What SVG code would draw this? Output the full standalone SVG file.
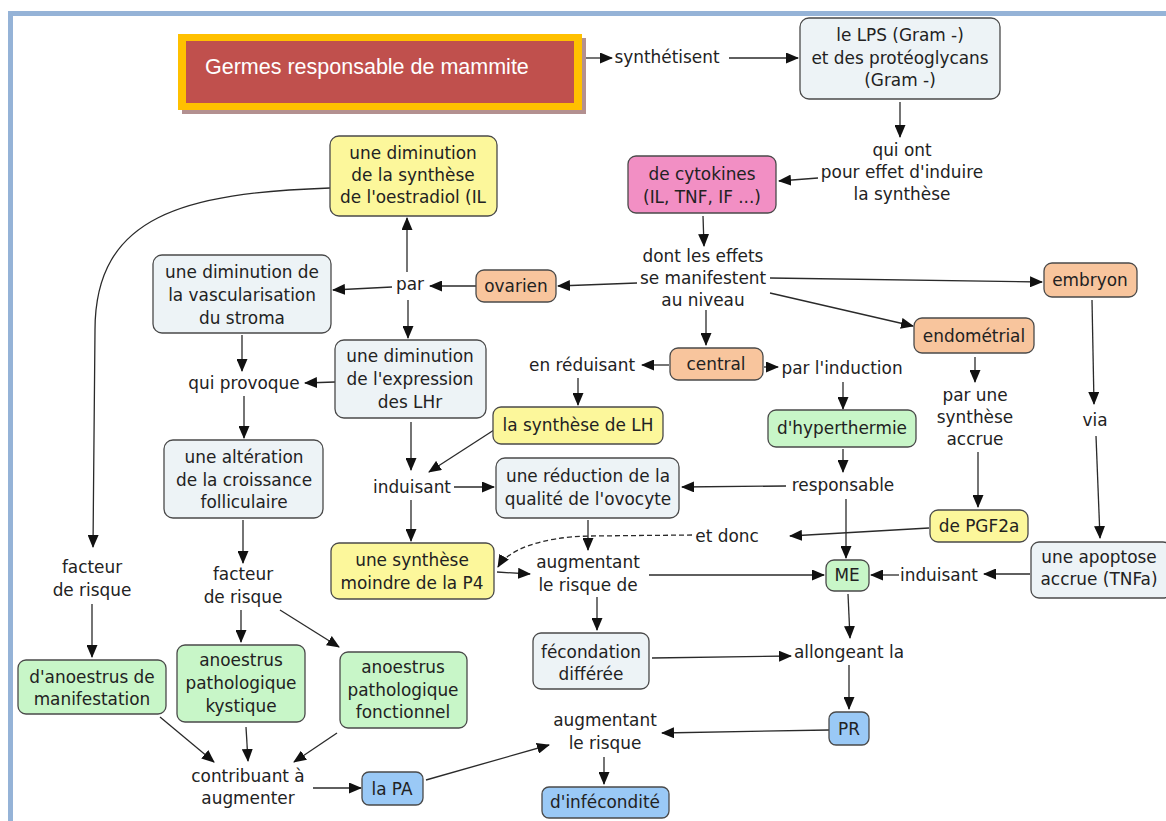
<svg xmlns="http://www.w3.org/2000/svg" width="1166" height="821" viewBox="0 0 1166 821">
<style>
.t{font-family:"DejaVu Sans",Verdana,sans-serif;font-size:16.9px;fill:#222;text-anchor:middle}
.nd{stroke:#4a4a4a;stroke-width:1.3}
.gb{fill:#edf3f6}.ye{fill:#fcf79b}.gr{fill:#c8f6c8}.or{fill:#f8c59d}.pk{fill:#f28fc4}.bl{fill:#9ac9f6}
.c{fill:none;stroke:#2a2a2a;stroke-width:1.3}
.a{marker-end:url(#ah)}
.d{stroke-dasharray:5 3}
</style>
<defs>
<marker id="ah" markerUnits="userSpaceOnUse" markerWidth="13" markerHeight="11" refX="12" refY="5.5" orient="auto">
<path d="M0,0 L13,5.5 L0,11 z" fill="#111"/>
</marker>
</defs>
<rect x="0" y="0" width="1166" height="821" fill="#fff"/>
<rect x="10.5" y="13.5" width="1170" height="830" fill="none" stroke="#95b3d7" stroke-width="5"/>

<g id="connectors">
<path class="c a" d="M582,58 L612,58"/>
<path class="c a" d="M729,58 L798,58"/>
<path class="c a" d="M900,102 L900,137"/>
<path class="c a" d="M818,178 L779,181"/>
<path class="c a" d="M703,216 L704,246"/>
<path class="c a" d="M637,283 L558,286"/>
<path class="c a" d="M476,286 L430,286"/>
<path class="c a" d="M407,272 L407,218"/>
<path class="c a" d="M392,287 L333,290"/>
<path class="c a" d="M408,300 L408,338"/>
<path class="c a" d="M242,335 L242,371"/>
<path class="c a" d="M335,382 L305,383"/>
<path class="c a" d="M244,396 L244,438"/>
<path class="c a" d="M330,188 C185,193 95,215 95,330 L93,547"/>
<path class="c a" d="M92,604 L92,657"/>
<path class="c a" d="M243,520 L243,563"/>
<path class="c a" d="M241,610 L241,642"/>
<path class="c a" d="M280,610 L339,647"/>
<path class="c a" d="M160,717 L214,762"/>
<path class="c a" d="M246,727 L248,761"/>
<path class="c a" d="M337,733 L294,762"/>
<path class="c a" d="M313,788 L361,788"/>
<path class="c a" d="M426,780 L549,745"/>
<path class="c a" d="M829,730 L662,733"/>
<path class="c a" d="M604,757 L604,784"/>
<path class="c a" d="M411,422 L411,470"/>
<path class="c a" d="M494,430 L429,472"/>
<path class="c a" d="M578,378 L578,405"/>
<path class="c a" d="M669,365 L642,365"/>
<path class="c a" d="M706,310 L706,345"/>
<path class="c a" d="M764,367 L778,367"/>
<path class="c a" d="M843,382 L843,409"/>
<path class="c a" d="M843,449 L843,472"/>
<path class="c a" d="M786,486 L682,487"/>
<path class="c a" d="M454,487 L494,487"/>
<path class="c a" d="M411,500 L411,541"/>
<path class="c a" d="M497,572 L530,574"/>
<path class="c a" d="M588,520 L588,550"/>
<path class="c a" d="M649,575 L824,575"/>
<path class="c a" d="M597,597 L597,630"/>
<path class="c a" d="M652,658 L791,656"/>
<path class="c a" d="M848,594 L850,638"/>
<path class="c a" d="M849,665 L849,709"/>
<path class="c a" d="M846,499 L846,558"/>
<path class="c a" d="M770,293 L913,326"/>
<path class="c a" d="M770,278 L1042,282"/>
<path class="c a" d="M975,357 L975,382"/>
<path class="c a" d="M978,452 L978,507"/>
<path class="c a" d="M929,528 L790,536"/>
<path class="c d a" d="M692,535 L590,536 C540,537 508,550 498,567"/>
<path class="c a" d="M1092,300 L1094,404"/>
<path class="c a" d="M1096,436 L1100,538"/>
<path class="c a" d="M1030,574 L984,574"/>
<path class="c a" d="M899,575 L871,575"/>
</g>

<g id="title">
<rect x="182" y="38" width="404" height="76" fill="#b39090"/>
<rect x="178" y="34" width="404" height="76" fill="#ffc000"/>
<rect x="186" y="41" width="388" height="62" fill="#c0504d"/>
<text x="205" y="74" font-family="'Liberation Sans',Arial,sans-serif" font-size="21.5" fill="#fff">Germes responsable de mammite</text>
</g>

<g id="lbl-synthetisent"><text class="t" x="667" y="63">synthétisent</text></g>

<g id="n-lps">
<rect class="nd gb" x="800" y="18" width="200" height="81" rx="9"/>
<text class="t" x="900" y="41">le LPS (Gram -)<tspan x="900" dy="22.5">et des protéoglycans</tspan><tspan x="900" dy="22.5">(Gram -)</tspan></text>
</g>

<g id="lbl-quiont"><text class="t" x="902" y="156">qui ont<tspan x="902" dy="22">pour effet d'induire</tspan><tspan x="902" dy="22">la synthèse</tspan></text></g>

<g id="n-cytokines">
<rect class="nd pk" x="628" y="156" width="148" height="57" rx="8"/>
<text class="t" x="702" y="180">de cytokines<tspan x="702" dy="23">(IL, TNF, IF ...)</tspan></text>
</g>

<g id="lbl-dont"><text class="t" x="703" y="262">dont les effets<tspan x="703" dy="22">se manifestent</tspan><tspan x="703" dy="22">au niveau</tspan></text></g>

<g id="n-ovarien">
<rect class="nd or" x="476" y="270" width="80" height="32" rx="8"/>
<text class="t" x="516" y="292">ovarien</text>
</g>

<g id="lbl-par"><text class="t" x="410" y="290">par</text></g>

<g id="n-oestradiol">
<rect class="nd ye" x="330" y="136" width="167" height="80" rx="9"/>
<text class="t" x="413" y="159">une diminution<tspan x="413" dy="22">de la synthèse</tspan><tspan x="413" dy="22">de l'oestradiol (IL</tspan></text>
</g>

<g id="n-vasc">
<rect class="nd gb" x="153" y="255" width="178" height="78" rx="9"/>
<text class="t" x="242" y="278">une diminution de<tspan x="242" dy="23">la vascularisation</tspan><tspan x="242" dy="23">du stroma</tspan></text>
</g>

<g id="n-expression">
<rect class="nd gb" x="335" y="340" width="151" height="78" rx="9"/>
<text class="t" x="410" y="362">une diminution<tspan x="410" dy="23">de l'expression</tspan><tspan x="410" dy="23">des LHr</tspan></text>
</g>

<g id="lbl-quiprovoque"><text class="t" x="244" y="389">qui provoque</text></g>

<g id="n-alteration">
<rect class="nd gb" x="164" y="440" width="159" height="78" rx="9"/>
<text class="t" x="244" y="463">une altération<tspan x="244" dy="22.5">de la croissance</tspan><tspan x="244" dy="22.5">folliculaire</tspan></text>
</g>

<g id="lbl-facteur1"><text class="t" x="92" y="573">facteur<tspan x="92" dy="23">de risque</tspan></text></g>
<g id="lbl-facteur2"><text class="t" x="243" y="580">facteur<tspan x="243" dy="23">de risque</tspan></text></g>

<g id="n-manif">
<rect class="nd gr" x="18" y="660" width="148" height="54" rx="8"/>
<text class="t" x="92" y="683">d'anoestrus de<tspan x="92" dy="22">manifestation</tspan></text>
</g>

<g id="n-kystique">
<rect class="nd gr" x="177" y="645" width="128" height="77" rx="8"/>
<text class="t" x="241" y="666">anoestrus<tspan x="241" dy="23">pathologique</tspan><tspan x="241" dy="23">kystique</tspan></text>
</g>

<g id="n-fonctionnel">
<rect class="nd gr" x="340" y="652" width="127" height="76" rx="8"/>
<text class="t" x="403" y="673">anoestrus<tspan x="403" dy="22.5">pathologique</tspan><tspan x="403" dy="22.5">fonctionnel</tspan></text>
</g>

<g id="lbl-contribuant"><text class="t" x="248" y="782">contribuant à<tspan x="248" dy="22">augmenter</tspan></text></g>

<g id="n-pa">
<rect class="nd bl" x="362" y="772" width="61" height="33" rx="7"/>
<text class="t" x="392" y="795">la PA</text>
</g>

<g id="lbl-augrisque"><text class="t" x="605" y="726">augmentant<tspan x="605" dy="23">le risque</tspan></text></g>

<g id="n-infecondite">
<rect class="nd bl" x="542" y="787" width="127" height="31" rx="7"/>
<text class="t" x="605" y="808">d'infécondité</text>
</g>

<g id="lbl-induisant1"><text class="t" x="412" y="493">induisant</text></g>

<g id="n-lh">
<rect class="nd ye" x="493" y="407" width="170" height="37" rx="8"/>
<text class="t" x="578" y="431">la synthèse de LH</text>
</g>

<g id="lbl-enreduisant"><text class="t" x="582" y="371">en réduisant</text></g>

<g id="n-central">
<rect class="nd or" x="670" y="348" width="93" height="32" rx="8"/>
<text class="t" x="716" y="370">central</text>
</g>

<g id="lbl-parinduction"><text class="t" x="842" y="374">par l'induction</text></g>

<g id="n-hyper">
<rect class="nd gr" x="768" y="410" width="148" height="37" rx="8"/>
<text class="t" x="842" y="434">d'hyperthermie</text>
</g>

<g id="lbl-responsable"><text class="t" x="843" y="491">responsable</text></g>

<g id="n-reduction">
<rect class="nd gb" x="496" y="458" width="183" height="60" rx="9"/>
<text class="t" x="588" y="482">une réduction de la<tspan x="588" dy="22.5">qualité de l'ovocyte</tspan></text>
</g>

<g id="n-p4">
<rect class="nd ye" x="331" y="543" width="163" height="56" rx="8"/>
<text class="t" x="412" y="566">une synthèse<tspan x="412" dy="23">moindre de la P4</tspan></text>
</g>

<g id="lbl-augrisquede"><text class="t" x="588" y="568">augmentant<tspan x="588" dy="23">le risque de</tspan></text></g>

<g id="n-me">
<rect class="nd gr" x="826" y="560" width="43" height="31" rx="8"/>
<text class="t" x="847" y="581">ME</text>
</g>

<g id="n-fecondation">
<rect class="nd gb" x="533" y="633" width="116" height="56" rx="8"/>
<text class="t" x="591" y="658">fécondation<tspan x="591" dy="22">différée</tspan></text>
</g>

<g id="lbl-allongeant"><text class="t" x="849" y="658">allongeant la</text></g>

<g id="n-pr">
<rect class="nd bl" x="829" y="712" width="40" height="33" rx="7"/>
<text class="t" x="849" y="735">PR</text>
</g>

<g id="n-endometrial">
<rect class="nd or" x="914" y="318" width="120" height="35" rx="8"/>
<text class="t" x="974" y="342">endométrial</text>
</g>

<g id="n-embryon">
<rect class="nd or" x="1044" y="263" width="93" height="34" rx="8"/>
<text class="t" x="1090" y="286">embryon</text>
</g>

<g id="lbl-parune"><text class="t" x="975" y="401">par une<tspan x="975" dy="22">synthèse</tspan><tspan x="975" dy="22">accrue</tspan></text></g>

<g id="n-pgf2a">
<rect class="nd ye" x="930" y="510" width="98" height="32" rx="8"/>
<text class="t" x="979" y="532">de PGF2a</text>
</g>

<g id="lbl-etdonc"><text class="t" x="727" y="542">et donc</text></g>

<g id="lbl-via"><text class="t" x="1095" y="426">via</text></g>

<g id="n-apoptose">
<rect class="nd gb" x="1031" y="542" width="140" height="56" rx="8"/>
<text class="t" x="1099" y="563">une apoptose<tspan x="1099" dy="22">accrue (TNFa)</tspan></text>
</g>

<g id="lbl-induisant2"><text class="t" x="939" y="581">induisant</text></g>
</svg>
